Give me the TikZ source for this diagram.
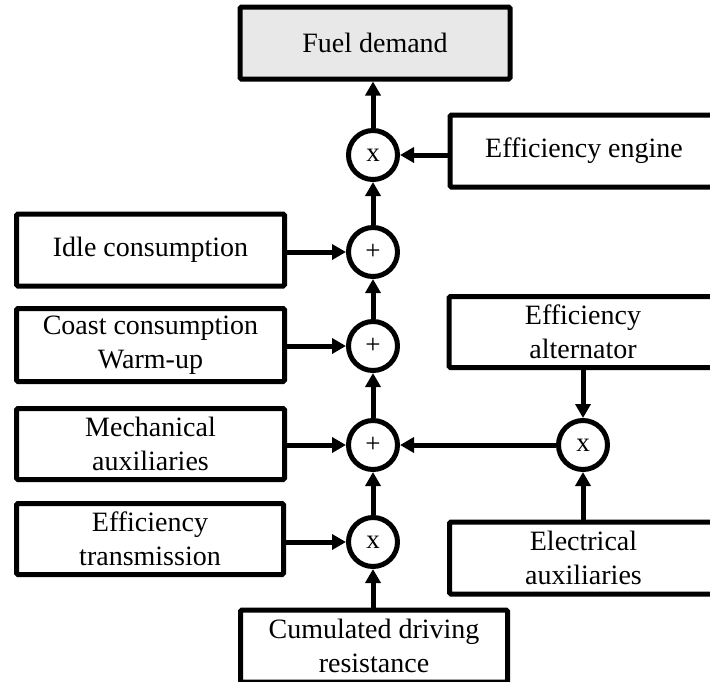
\documentclass[tikz,border=0pt]{standalone}
\usepackage{fontspec}
\setmainfont{Liberation Serif}
\usetikzlibrary{arrows.meta}
\definecolor{outgray}{HTML}{E8E8E8}
\begin{document}
\begin{tikzpicture}[x=1pt,y=-1pt,
  block/.style={draw,line width=5pt,rounded corners=1.5pt,align=center,
    inner sep=0pt,minimum width=268pt,minimum height=72pt,
    font=\fontsize{28}{33.5}\selectfont},
  junction/.style={draw,circle,line width=5pt,minimum size=49pt,inner sep=0pt,
    font=\fontsize{27}{30}\selectfont},
  flow/.style={line width=5pt,-{Triangle[length=14pt,width=15pt]}}]
\useasboundingbox (0,0) rectangle (710,681);

% output and operators on the main chain
\node[block,fill=outgray,minimum width=270pt] (fuel) at (375,43) {Fuel demand};
\node[junction] (m1) at (373,155) {x};
\node[junction] (s1) at (373,252) {+};
\node[junction] (s2) at (373,346) {+};
\node[junction] (s3) at (373,445) {+};
\node[junction] (m2) at (373,542) {x};
\node[junction] (m3) at (583,445) {x};

% input blocks (the right-hand ones run past the page edge)
\node[block] (effeng) at (584,151) {Efficiency engine};
\node[block] (idle) at (150.5,250) {Idle consumption};
\node[block,minimum height=73pt] (coast) at (150.5,345) {Coast consumption\\Warm-up};
\node[block,minimum height=71pt] (mech) at (150.5,444) {Mechanical\\auxiliaries};
\node[block,minimum width=267pt,minimum height=71pt] (efftr) at (150,539) {Efficiency\\transmission};
\node[block,minimum width=267pt] (cum) at (374,646) {Cumulated driving\\resistance};
\node[block,minimum height=71pt] (effalt) at (583,332) {Efficiency\\alternator};
\node[block] (elec) at (583.5,558) {Electrical\\auxiliaries};

% signal flow: straight vertical and horizontal runs
\draw[flow] (m1) -- (m1 |- fuel.south);
\draw[flow] (effeng.west |- m1) -- (m1);
\draw[flow] (s1) -- (m1);
\draw[flow] (idle.east |- s1) -- (s1);
\draw[flow] (s2) -- (s1);
\draw[flow] (coast.east |- s2) -- (s2);
\draw[flow] (s3) -- (s2);
\draw[flow] (mech.east |- s3) -- (s3);
\draw[flow] (m3) -- (s3);
\draw[flow] (m2) -- (s3);
\draw[flow] (efftr.east |- m2) -- (m2);
\draw[flow] (m2 |- cum.north) -- (m2);
\draw[flow] (m3 |- effalt.south) -- (m3);
\draw[flow] (m3 |- elec.north) -- (m3);
\end{tikzpicture}
\end{document}
